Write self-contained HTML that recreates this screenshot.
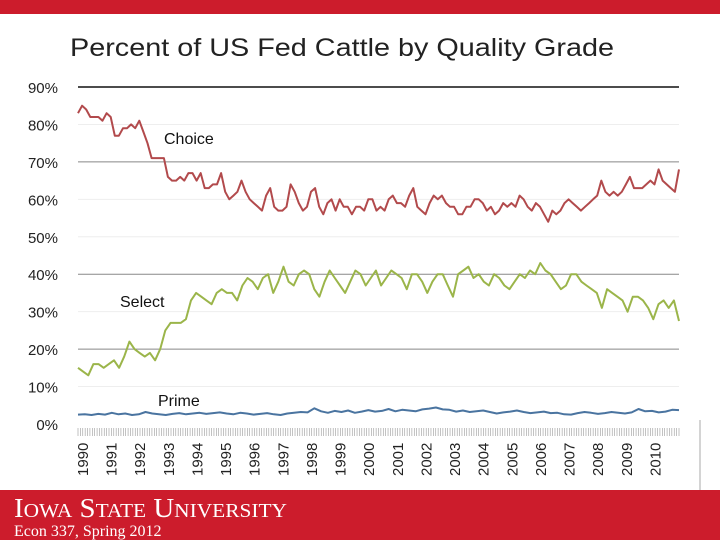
<!DOCTYPE html>
<html><head><meta charset="utf-8"><style>
body{margin:0;width:720px;height:540px;overflow:hidden;background:#fff;font-family:"Liberation Sans",sans-serif}
svg{display:block}
</style></head><body>
<svg width="720" height="540" xmlns="http://www.w3.org/2000/svg">
<rect x="0" y="0" width="720" height="14" fill="#cc1c2c"/>
<text x="70" y="56" font-size="25" fill="#222" textLength="544" lengthAdjust="spacingAndGlyphs" font-family="Liberation Sans, sans-serif">Percent of US Fed Cattle by Quality Grade</text>
<g id="grid"></g>
<g id="yt"></g>
<g id="xt"></g>
<g id="ticks"></g>
<g id="lines"></g>
<text x="164" y="144" font-size="16" fill="#111">Choice</text>
<text x="120" y="307" font-size="16" fill="#111">Select</text>
<text x="158" y="406" font-size="16" fill="#111">Prime</text>
<line x1="700" y1="420" x2="700" y2="490" stroke="#aaa" stroke-width="1"/>
<rect x="0" y="490" width="720" height="50" fill="#cc1c2c"/>
<text x="14" y="517" fill="#fff" font-family="Liberation Serif, serif" font-size="27" textLength="273" lengthAdjust="spacingAndGlyphs">I<tspan font-size="20">OWA</tspan> S<tspan font-size="20">TATE</tspan> U<tspan font-size="20">NIVERSITY</tspan></text>
<text x="14" y="536" fill="#fff" font-family="Liberation Serif, serif" font-size="16">Econ 337, Spring 2012</text>
</svg>
<script>
const yTicks=[0,10,20,30,40,50,60,70,80,90];
const years=[1990,1991,1992,1993,1994,1995,1996,1997,1998,1999,2000,2001,2002,2003,2004,2005,2006,2007,2008,2009,2010];
const choice=[83,85,84,82,82,82,81,83,82,77,77,79,79,80,79,81,78,75,71,71,71,71,66,65,65,66,65,67,67,65,67,63,63,64,64,67,62,60,61,62,65,62,60,59,58,57,61,63,58,57,57,58,64,62,59,57,58,62,63,58,56,59,60,57,60,58,58,56,58,58,57,60,60,57,58,57,60,61,59,59,58,61,63,58,57,56,59,61,60,61,59,58,58,56,56,58,58,60,60,59,57,58,56,57,59,58,59,58,61,60,58,57,59,58,56,54,57,56,57,59,60,59,58,57,58,59,60,61,65,62,61,62,61,62,64,66,63,63,63,64,65,64,68,65,64,63,62,68];
const select=[15,14,13,16,16,15,16,17,15,18,22,20,19,18,19,17,20,25,27,27,27,28,33,35,34,33,32,35,36,35,35,33,37,39,38,36,39,40,35,38,42,38,37,40,41,40,36,34,38,41,39,37,35,38,41,40,37,39,41,37,39,41,40,39,36,40,40,38,35,38,40,40,37,34,40,41,42,39,40,38,37,40,39,37,36,38,40,39,41,40,43,41,40,38,36,37,40,40,38,37,36,35,31,36,35,34,33,30,34,34,33,31,28,32,33,31,33,27.5];
const prime=[2.5,2.6,2.4,2.7,2.5,3,2.6,2.8,2.4,2.6,3.2,2.8,2.6,2.4,2.7,2.9,2.6,2.8,3,2.7,2.9,3.1,2.8,2.6,3,2.8,2.5,2.7,2.9,2.6,2.4,2.8,3,3.2,3.1,4.2,3.4,3,3.5,3.2,3.6,3,3.3,3.7,3.3,3.5,4,3.4,3.8,3.6,3.4,3.9,4.1,4.4,3.9,3.8,3.3,3.6,3.2,3.4,3.6,3.2,2.8,3.1,3.3,3.6,3.2,2.9,3.1,3.3,2.9,3,2.6,2.5,2.9,3.2,3,2.7,2.9,3.2,3,2.8,3.1,4,3.4,3.5,3.1,3.3,3.8,3.7];
const NS="http://www.w3.org/2000/svg";
const X0=78,X1=679,Y0=424,Y90=87;
function yS(v){return Y0-(v/90)*(Y0-Y90);}
function xS(i,n){return X0+i*(X1-X0)/(n-1);}
function yearX(y){return X0+(y-1990)*(X1-X0)/21;}
function mk(tag,attrs,parent){const e=document.createElementNS(NS,tag);for(const k in attrs)e.setAttribute(k,attrs[k]);parent.appendChild(e);return e;}
const grid=document.getElementById('grid'),yt=document.getElementById('yt'),xt=document.getElementById('xt'),tk=document.getElementById('ticks'),ln=document.getElementById('lines');
yTicks.forEach(v=>{
  if(v>0){const dark=(v===90||v===70||v===40||v===20);
    const l=mk('line',{x1:X0,x2:X1,y1:yS(v),y2:yS(v),stroke:v===90?'#111':(dark?'#888':'#eee'),'stroke-width':v===90?1.5:1},grid);
    
    }
  const t=mk('text',{x:58,y:yS(v)+6,'text-anchor':'end','font-size':15,fill:'#222'},yt);
  t.textContent=v+'%';
  
  
});
for(let m=0;m<=252;m++){
  const x=X0+m*(X1-X0)/252;
  const l=mk('line',{x1:x,x2:x,y1:428,y2:436,stroke:'#999','stroke-width':0.6},tk);
  
  
}
years.forEach(y=>{
  const x=yearX(y)+10;
  const t=mk('text',{x:0,y:0,transform:`translate(${x},476) rotate(-90)`,'font-size':15,fill:'#222'},xt);
  t.textContent=y;
  
  
});
function series(arr,color,name){
  const d=arr.map((v,i)=>(i?'L':'M')+xS(i,arr.length).toFixed(1)+','+yS(v).toFixed(1)).join('');
  const p=mk('path',{d:d,fill:'none',stroke:color,'stroke-width':2,'stroke-linejoin':'round'},ln);
  
  
}
series(choice,'#b24a4c','choice-line');
series(select,'#9bb54a','select-line');
series(prime,'#4a74a0','prime-line');
</script>
</body></html>
